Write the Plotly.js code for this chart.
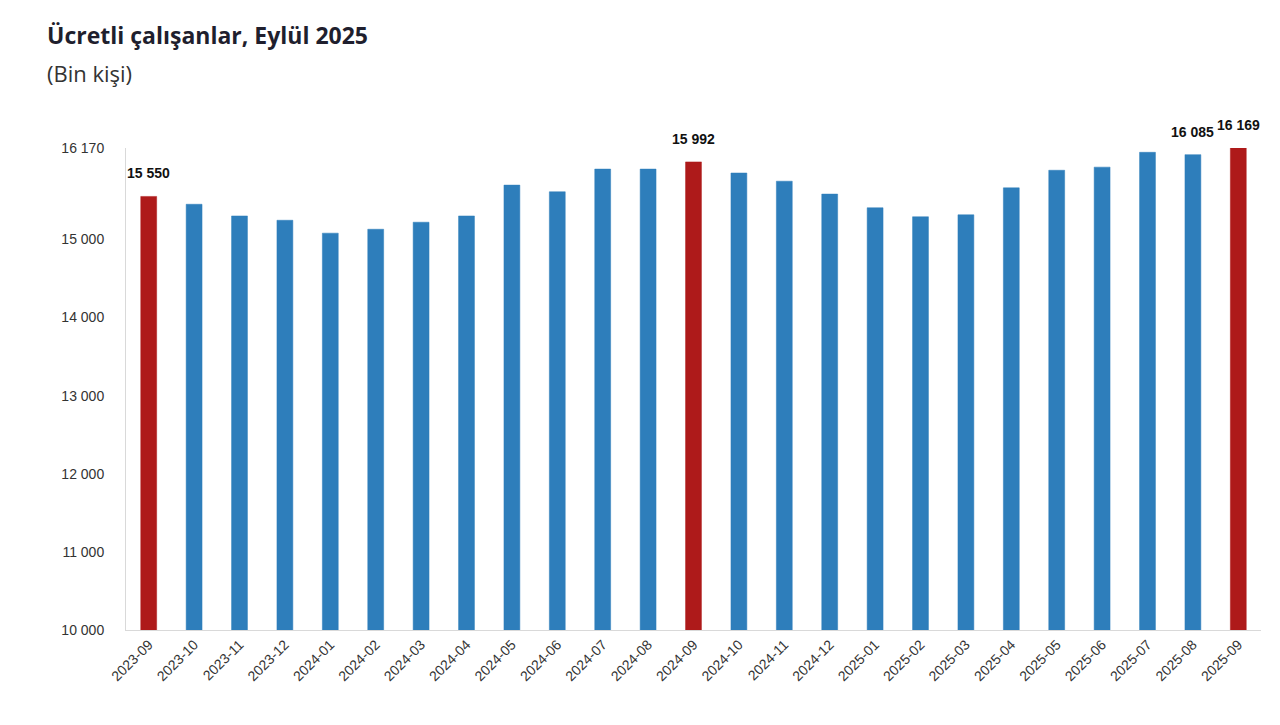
<!DOCTYPE html>
<html>
<head>
<meta charset="utf-8">
<script src="https://cdn.plot.ly/plotly-3.0.1.min.js"></script>
<style>html,body{margin:0;padding:0;background:#fff;}#chart{width:1280px;height:725px;}</style>
</head>
<body>
<div id="chart"></div>
<script>
const months = ["2023-09","2023-10","2023-11","2023-12","2024-01","2024-02","2024-03","2024-04","2024-05","2024-06","2024-07","2024-08","2024-09","2024-10","2024-11","2024-12","2025-01","2025-02","2025-03","2025-04","2025-05","2025-06","2025-07","2025-08","2025-09"];
const employees = [15550,15450,15300,15245,15080,15130,15220,15300,15695,15610,15900,15900,15992,15850,15745,15580,15405,15290,15315,15660,15885,15925,16115,16085,16169];
const highlighted = ["2023-09","2024-09","2025-09"];
const labelled = ["2023-09","2024-09","2025-08","2025-09"];
const yTickVals = [10000,11000,12000,13000,14000,15000,16170];
const yTickText = ["10 000","11 000","12 000","13 000","14 000","15 000","16 170"];

const fmt = v => String(v).replace(/\B(?=(\d{3})+(?!\d))/g, " ");
const colors = months.map(m => highlighted.includes(m) ? "#AE1A1A" : "#2E7EBB");

const annotations = months.map((m,i) => labelled.includes(m) ? {
  x: m, y: employees[i], xref: "x", yref: "y", text: "<b>" + fmt(employees[i]) + "</b>",
  showarrow: false, yanchor: "middle", yshift: 23,
  font: {family: "Liberation Sans, Arial, sans-serif", size: 14, color: "#111"}
} : null).filter(a => a);

annotations.push({
  xref: "paper", yref: "paper", x: -0.0715, y: (630-35)/482, xanchor: "left", yanchor: "middle",
  text: "<b>Ücretli çalışanlar, Eylül 2025</b>", showarrow: false,
  font: {family: "Open Sans, sans-serif", size: 23, color: "#1f1f2e"}
});
annotations.push({
  xref: "paper", yref: "paper", x: -0.0715, y: (630-73)/482, xanchor: "left", yanchor: "middle",
  text: "(Bin kişi)", showarrow: false,
  font: {family: "Open Sans, sans-serif", size: 22, color: "#333"}
});

const trace = {
  type: "bar", x: months, y: employees,
  marker: {color: colors, line: {color: colors, width: 0.5}},
  hoverinfo: "x+y"
};

const layout = {
  width: 1280, height: 725,
  margin: {l: 126, r: 19, t: 148, b: 95},
  paper_bgcolor: "#fff", plot_bgcolor: "#fff",
  bargap: 0.65,
  showlegend: false,
  xaxis: {
    type: "category", tickangle: -45, showline: true, linecolor: "#d9d9d9", linewidth: 1,
    showgrid: false, ticks: "", tickfont: {family: "Liberation Sans, Arial, sans-serif", size: 14, color: "#333"},
    range: [-0.5, 24.5]
  },
  yaxis: {
    range: [10000, 16170], tickvals: yTickVals, ticktext: yTickText,
    showline: true, linecolor: "#d9d9d9", linewidth: 1, showgrid: false, zeroline: false, ticks: "",
    tickfont: {family: "Liberation Sans, Arial, sans-serif", size: 14, color: "#333"}, ticklabelstandoff: 18
  },
  annotations: annotations
};

Plotly.newPlot("chart", [trace], layout, {displayModeBar: false, staticPlot: true});
</script>
</body>
</html>
